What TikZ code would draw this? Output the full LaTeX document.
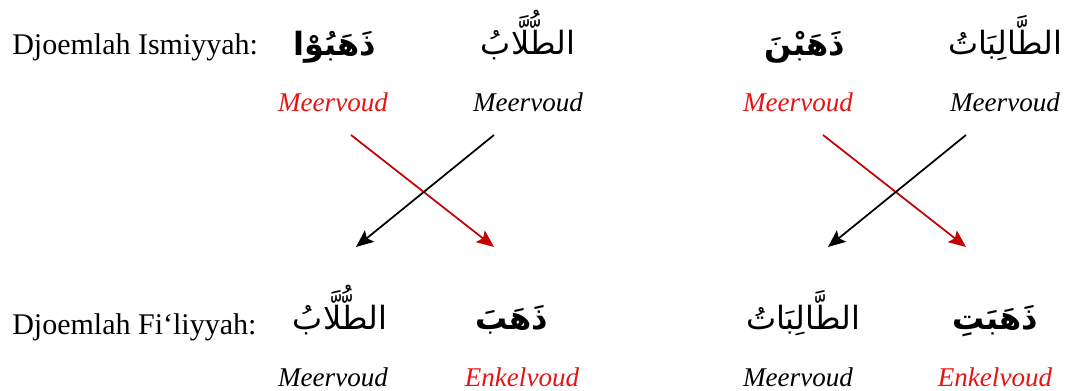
\documentclass[tikz,border=0pt]{standalone}
\usepackage{fontspec}
\setmainfont{Liberation Serif}
\newfontfamily\arabicfont[Script=Arabic]{DejaVu Sans}
\TeXXeTstate=1
\usepackage{tikz}
\usetikzlibrary{arrows.meta}
\definecolor{arrowred}{RGB}{196,0,0}
\definecolor{textred}{RGB}{230,20,20}
\newcommand{\ar}[1]{{\arabicfont\fontsize{24}{29}\selectfont\beginR #1\endR}}
\newcommand{\arb}[1]{{\arabicfont\bfseries\fontsize{24}{29}\selectfont\beginR #1\endR}}

\begin{document}
\begin{tikzpicture}[x=0.75pt,y=-0.75pt,
    lbl/.style={anchor=base west,inner sep=0pt,font=\fontsize{22.5}{27}\selectfont},
    word/.style={anchor=base,inner sep=0pt},
    gloss/.style={anchor=base,inner sep=0pt,font=\fontsize{20.3}{24}\selectfont\itshape},
    link/.style={line width=1.3pt,-{Stealth[length=13pt,width=11pt,inset=2.5pt]}}]
        \useasboundingbox (0,0) rectangle (1065,391);

        % left labels
        \node[lbl] (ism) at (12,55) {Djoemlah Ismiyyah:};
        \node[lbl] (fil) at (12,335) {Djoemlah Fi‘liyyah:};

        % top row
        \node[word] (a1) at (335,56) {\arb{ذَهَبُوْا}};
        \node[word] (a2) at (528,55) {\ar{الطُّلَّابُ}};
        \node[word] (a3) at (805,56) {\arb{ذَهَبْنَ}};
        \node[word] (a4) at (1005,55) {\ar{الطَّالِبَاتُ}};
        \node[gloss,textred] (m1) at (333,112) {Meervoud};
        \node[gloss] (m2) at (528,112) {Meervoud};
        \node[gloss,textred] (m3) at (798,112) {Meervoud};
        \node[gloss] (m4) at (1005,112) {Meervoud};

        % bottom row
        \node[word] (b1) at (340,330) {\ar{الطُّلَّابُ}};
        \node[word] (b2) at (512,330) {\arb{ذَهَبَ}};
        \node[word] (b3) at (803,330) {\ar{الطَّالِبَاتُ}};
        \node[word] (b4) at (995,330) {\arb{ذَهَبَتِ}};
        \node[gloss] (n1) at (333,387) {Meervoud};
        \node[gloss,textred] (n2) at (522,387) {Enkelvoud};
        \node[gloss] (n3) at (798,387) {Meervoud};
        \node[gloss,textred] (n4) at (995,387) {Enkelvoud};

        % crossing arrows
        \coordinate (s1) at (351,135);
        \coordinate (s2) at (494,135);
        \coordinate (s3) at (823,135);
        \coordinate (s4) at (966,135);
        \coordinate (e1) at (356,247);
        \coordinate (e2) at (494,247);
        \coordinate (e3) at (828,247);
        \coordinate (e4) at (966,247);
        \draw[link,arrowred] (s1) -- (e2);
        \draw[link] (s2) -- (e1);
        \draw[link,arrowred] (s3) -- (e4);
        \draw[link] (s4) -- (e3);
    \end{tikzpicture}
\end{document}
